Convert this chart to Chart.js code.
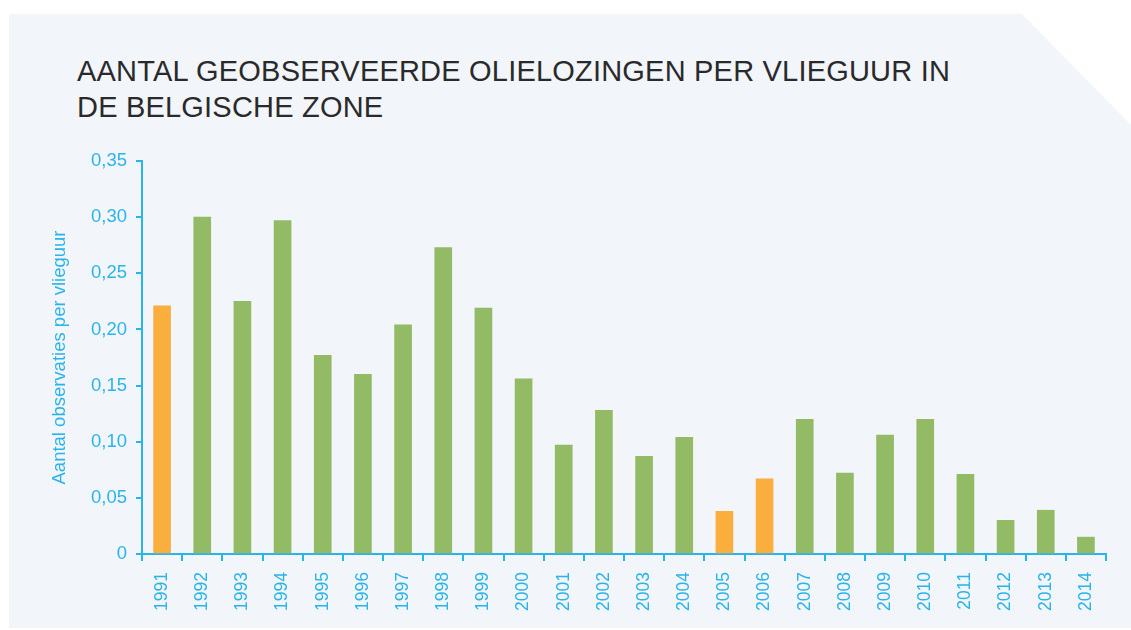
<!DOCTYPE html>
<html>
<head>
<meta charset="utf-8">
<script src="https://cdn.jsdelivr.net/npm/chart.js@4/dist/chart.umd.min.js"></script>
<style>
  html, body { margin: 0; padding: 0; background: #fff; }
  .wrap { position: relative; width: 1131px; height: 630px; overflow: hidden; }
  .panel {
    position: absolute; left: 9px; top: 14px; width: 1122px; height: 614px;
    background: #f2f5fa;
    clip-path: polygon(0 0, 1013px 0, 1122px 111px, 1122px 614px, 0 614px);
  }
  h1 {
    position: absolute; left: 77px; top: 53px; margin: 0;
    font: 29px/36px "Liberation Sans", Arial, sans-serif;
    color: #2a2a2a; letter-spacing: 0.2px; font-weight: normal;
  }
  canvas { position: absolute; left: 0; top: 0; }
</style>
</head>
<body>
<div class="wrap">
  <div class="panel"></div>
  <h1>AANTAL GEOBSERVEERDE OLIELOZINGEN PER VLIEGUUR IN<br>DE BELGISCHE ZONE</h1>
  <canvas id="chart" width="1131" height="630"></canvas>
</div>
<script>
const years = ['1991', '1992', '1993', '1994', '1995', '1996', '1997', '1998',
  '1999', '2000', '2001', '2002', '2003', '2004', '2005', '2006', '2007',
  '2008', '2009', '2010', '2011', '2012', '2013', '2014']
const spillsPerHour = [0.221, 0.300, 0.225, 0.297, 0.177, 0.160, 0.204, 0.273,
  0.219, 0.156, 0.097, 0.128, 0.087, 0.104, 0.038, 0.067, 0.120,
  0.072, 0.106, 0.120, 0.071, 0.030, 0.039, 0.015]
const highlightYears = ['1991', '2005', '2006']

const green = '#93ba64'
const orange = '#f9ae3e'
const cyan = '#2ab5ea'
const font = "'Liberation Sans', Arial, sans-serif"

const ctx = document.getElementById('chart').getContext('2d')

new Chart(ctx, {
  type: 'bar',
  data: {
    labels: years,
    datasets: [{
      data: spillsPerHour,
      backgroundColor: years.map(y => highlightYears.includes(y) ? orange : green),
      barThickness: 17
    }]
  },
  options: {
    responsive: false,
    animation: false,
    layout: { padding: { top: 161, right: 25, left: 0, bottom: 0 } },
    plugins: { legend: { display: false }, tooltip: { enabled: false } },
    scales: {
      x: {
        grid: { drawOnChartArea: false, color: cyan, lineWidth: 2, tickLength: 7, offset: true },
        border: { color: cyan, width: 2 },
        ticks: {
          color: cyan, font: { family: font, size: 17.5 },
          minRotation: 90, maxRotation: 90, padding: 11, autoSkip: false
        },
        afterFit (scale) { scale.height = 76 }
      },
      y: {
        min: 0,
        max: 0.35,
        grid: { drawOnChartArea: false, color: cyan, lineWidth: 2, tickLength: 6 },
        border: { color: cyan, width: 2 },
        ticks: {
          stepSize: 0.05, color: cyan, padding: 9,
          font: { family: font, size: 18.5 },
          callback: v => v === 0 ? '0' : v.toFixed(2).replace('.', ',')
        },
        title: {
          display: true,
          text: 'Aantal observaties per vlieguur',
          color: cyan,
          font: { family: font, size: 18.5 },
          padding: { top: 49, bottom: 0 }
        },
        afterFit (scale) { scale.width = 142 }
      }
    }
  }
})
</script>
</body>
</html>
